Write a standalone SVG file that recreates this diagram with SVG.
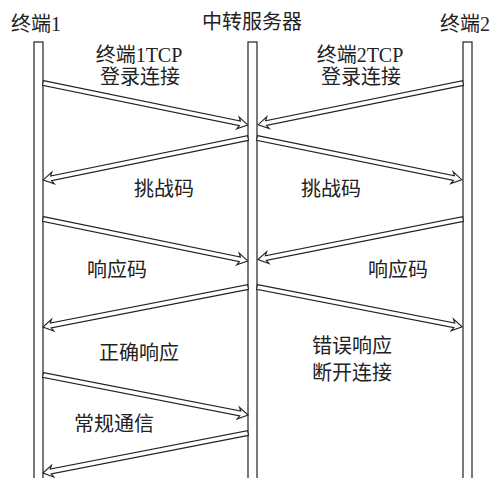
<svg xmlns="http://www.w3.org/2000/svg" xmlns:xlink="http://www.w3.org/1999/xlink" width="494" height="478" viewBox="0 0 494 478">
<style>
.t{font-family:"Liberation Serif","Noto Sans CJK SC",serif;font-size:20px;fill:#222;}
.m{text-anchor:middle;}
.life{fill:#fff;stroke:#222;stroke-width:1.2;}
.arr{fill:#fff;stroke:#222;stroke-width:1.1;stroke-linejoin:miter;}
</style>
<defs>
<path id="a" d="M0,-2.4 L201,-2.4 L199,-6 L209,0 L199,6 L201,2.4 L0,2.4 Z"/>
</defs>
<rect width="494" height="478" fill="#fff"/>
<g id="term1"><rect class="life" x="34" y="42" width="9" height="440"/><text class="t" x="11" y="31">终端1</text></g>
<g id="server"><rect class="life" x="248" y="42" width="9" height="440"/><text class="t m" x="252" y="29">中转服务器</text></g>
<g id="term2"><rect class="life" x="463" y="42" width="9" height="440"/><text class="t" x="440" y="31">终端2</text></g>
<g id="connectors" class="arr">
<use xlink:href="#a" transform="translate(43,83) rotate(11.58)"/>
<use xlink:href="#a" transform="translate(463,83) rotate(168.5)"/>
<use xlink:href="#a" transform="translate(248,138) rotate(168.42)"/>
<use xlink:href="#a" transform="translate(257,138) rotate(11.5)"/>
<use xlink:href="#a" transform="translate(43,219) rotate(11.58)"/>
<use xlink:href="#a" transform="translate(463,219) rotate(168.8)"/>
<use xlink:href="#a" transform="translate(248,287) rotate(168.96)"/>
<use xlink:href="#a" transform="translate(257,287) rotate(11.0)"/>
<use xlink:href="#a" transform="translate(43,375) rotate(11.04)"/>
<use xlink:href="#a" transform="translate(248,433) rotate(168.96)"/>
</g>
<g id="labels">
<text class="t m" x="139" y="62">终端1TCP</text>
<text class="t m" x="140" y="84">登录连接</text>
<text class="t m" x="360" y="62">终端2TCP</text>
<text class="t m" x="361" y="84">登录连接</text>
<text class="t m" x="164" y="196">挑战码</text>
<text class="t m" x="331" y="196">挑战码</text>
<text class="t m" x="117" y="277">响应码</text>
<text class="t m" x="398" y="277">响应码</text>
<text class="t m" x="139" y="360">正确响应</text>
<text class="t m" x="352" y="353">错误响应</text>
<text class="t m" x="352" y="380">断开连接</text>
<text class="t m" x="114" y="431">常规通信</text>
</g>
</svg>
